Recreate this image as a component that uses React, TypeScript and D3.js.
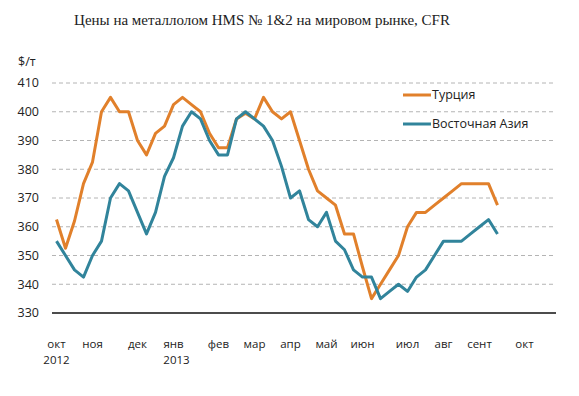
import { useRef, useEffect } from 'react';
import * as d3 from 'd3';

const title = 'Цены на металлолом HMS № 1&2 на мировом рынке, CFR';
const unitLabel = '$/т';

// weekly prices, oct 2012 - sep 2013
const turkey = [
  362.5, 352.5, 362, 375, 382.5, 400, 405, 400, 400, 390,
  385, 392.5, 395, 402.5, 405, 402.5, 400, 392.5, 387.5, 387.5,
  397.5, 399.5, 397.5, 405, 400, 397.5, 400, 390, 380, 372.5,
  370, 367.5, 357.5, 357.5, 346, 335, 340, 345, 350, 360,
  365, 365, 367.5, 370, 372.5, 375, 375, 375, 375, 367.5,
];
const eastAsia = [
  355, 350, 345, 342.5, 350, 355, 370, 375, 372.5, 365,
  357.5, 365, 377.5, 384, 395, 400, 397.5, 390, 385, 385,
  397.5, 400, 397.5, 395, 390, 381, 370, 372.5, 362.5, 360,
  365, 355, 352, 345, 342.5, 342.5, 335, 337.5, 340, 337.5,
  342.5, 345, 350, 355, 355, 355, 357.5, 360, 362.5, 357.5,
];
const seriesNames = ['Турция', 'Восточная Азия'];
const seriesColors = ['#E1802B', '#31849B'];

const categoryCount = 56;
const monthLabels = ['окт', 'ноя', 'дек', 'янв', 'фев', 'мар', 'апр', 'май', 'июн', 'июл', 'авг', 'сент', 'окт'];
const monthPos = [0, 4, 9, 13, 18, 22, 26, 30, 34, 39, 43, 47, 52];
const yearLabels = ['2012', '2013'];
const yearPos = [0, 13];
const yTicks = [330, 340, 350, 360, 370, 380, 390, 400, 410];

const W = 579;
const H = 396;
const font = '"Open Sans", "Noto Sans", sans-serif';

export default function App() {
  const svgRef = useRef(null);

  function renderChart() {
    const svg = d3.select(svgRef.current);
    svg.selectAll('*').remove();

    const x = d3.scaleBand().domain(d3.range(categoryCount)).range([52, 556]);
    const cx = i => x(i) + x.bandwidth() / 2;
    const y = d3.scaleLinear().domain([330, 410]).range([313, 83]);

    svg
      .append('text')
      .attr('x', 262)
      .attr('y', 25)
      .attr('text-anchor', 'middle')
      .style('font', '15px "Liberation Serif", serif')
      .attr('fill', '#222')
      .text(title);

    svg
      .append('text')
      .attr('x', 18)
      .attr('y', 66)
      .style('font', `12.5px ${font}`)
      .attr('fill', '#222')
      .text(unitLabel);

    // grid
    svg
      .append('g')
      .selectAll('line')
      .data(yTicks.filter(t => t > 330))
      .join('line')
      .attr('x1', 52)
      .attr('x2', 556)
      .attr('y1', d => y(d))
      .attr('y2', d => y(d))
      .attr('stroke', '#b4b4b4')
      .attr('stroke-dasharray', '4,3');

    svg
      .append('line')
      .attr('x1', 52)
      .attr('x2', 556)
      .attr('y1', y(330))
      .attr('y2', y(330))
      .attr('stroke', '#111')
      .attr('stroke-width', 1.3);

    svg
      .append('g')
      .selectAll('text')
      .data(yTicks)
      .join('text')
      .attr('x', 39)
      .attr('y', d => y(d))
      .attr('dy', '0.35em')
      .attr('text-anchor', 'end')
      .style('font', `12.5px ${font}`)
      .attr('fill', '#222')
      .text(d => d);

    svg
      .append('g')
      .selectAll('text')
      .data(monthLabels)
      .join('text')
      .attr('x', (d, i) => cx(monthPos[i]))
      .attr('y', 348)
      .attr('text-anchor', 'middle')
      .style('font', `11.5px ${font}`)
      .attr('fill', '#222')
      .text(d => d);

    svg
      .append('g')
      .selectAll('text')
      .data(yearLabels)
      .join('text')
      .attr('x', (d, i) => cx(yearPos[i]) + (i === 1 ? 3 : 0))
      .attr('y', 364)
      .attr('text-anchor', 'middle')
      .style('font', `11.5px ${font}`)
      .attr('fill', '#222')
      .text(d => d);

    const line = d3
      .line()
      .x((d, i) => cx(i))
      .y(d => y(d));

    [turkey, eastAsia].forEach((s, k) => {
      svg
        .append('path')
        .attr('d', line(s))
        .attr('fill', 'none')
        .attr('stroke', seriesColors[k])
        .attr('stroke-width', 3)
        .attr('stroke-linejoin', 'round');
    });

    const legend = svg
      .append('g')
      .selectAll('g')
      .data(seriesNames)
      .join('g')
      .attr('transform', (d, i) => `translate(403,${95 + i * 29})`);
    legend
      .append('line')
      .attr('x1', 0)
      .attr('x2', 28)
      .attr('stroke', (d, i) => seriesColors[i])
      .attr('stroke-width', 3);
    legend
      .append('text')
      .attr('x', 29)
      .attr('dy', '0.35em')
      .style('font', `12.5px ${font}`)
      .attr('fill', '#222')
      .text(d => d);
  }

  useEffect(() => {
    renderChart();
    // eslint-disable-next-line react-hooks/exhaustive-deps
  }, []);

  return (
    <div>
      <svg
        ref={svgRef}
        width={W}
        height={H}
        style={{ position: 'absolute', left: 0, top: 0, background: '#fff' }}
      />
    </div>
  );
}
